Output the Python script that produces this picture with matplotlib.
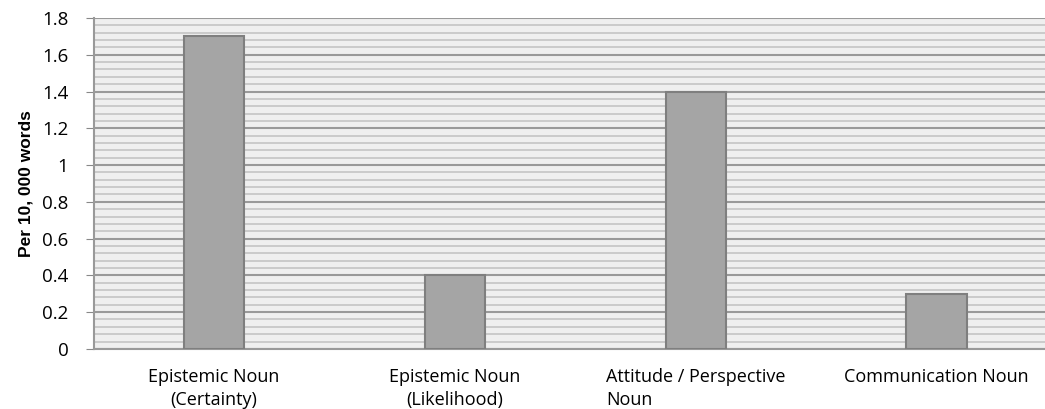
import numpy as np
from matplotlib import pyplot as plt
from matplotlib.ticker import MultipleLocator

categories = ['Epistemic Noun\n(Certainty)', 'Epistemic Noun\n(Likelihood)',
              'Attitude / Perspective\nNoun', 'Communication Noun']
values = [1.7, 0.4, 1.4, 0.3]
yticks = [0, 0.2, 0.4, 0.6, 0.8, 1, 1.2, 1.4, 1.6, 1.8]
ytick_labels = ['0', '0.2', '0.4', '0.6', '0.8', '1', '1.2', '1.4', '1.6', '1.8']

plt.rcParams['font.family'] = ['Open Sans', 'DejaVu Sans']

fig = plt.figure(figsize=(10.45, 4.09), dpi=100)
ax = fig.add_axes([0.0895, 0.147, 0.9105, 0.809])

x = np.arange(len(categories))
ax.set_facecolor('#efefef')
ax.bar(x, values, width=0.25, color='#a5a5a5', edgecolor='#7f7f7f', linewidth=1.5, zorder=3)

ax.set_ylim(0, 1.8)
ax.set_xlim(-0.5, 3.45)
ax.set_yticks(yticks)
ax.set_yticklabels(ytick_labels, fontsize=13.5)
ax.yaxis.set_minor_locator(MultipleLocator(0.04))
ax.grid(axis='y', which='major', color='#999999', linewidth=1.5, zorder=1)
ax.grid(axis='y', which='minor', color='#c4c4c4', linewidth=1.2, zorder=1)
ax.tick_params(axis='y', which='major', length=6, color='#888888', pad=12)
ax.tick_params(axis='y', which='minor', length=0)

ax.set_xticks(x)
ax.set_xticklabels(categories, fontsize=13, linespacing=1.35)
ax.tick_params(axis='x', length=0, pad=14)
ax.get_xticklabels()[2].set_multialignment('left')

for side in ['top', 'right']:
    ax.spines[side].set_visible(False)
ax.spines['left'].set_color('#999999')
ax.spines['left'].set_linewidth(1.5)
ax.spines['bottom'].set_color('#999999')
ax.spines['bottom'].set_linewidth(1.5)

ax.set_ylabel('Per 10, 000 words', fontsize=12.5, fontweight='bold',
              family=['Liberation Sans Narrow', 'Liberation Sans', 'DejaVu Sans'], labelpad=6)

plt.savefig('out.png', dpi=100)
